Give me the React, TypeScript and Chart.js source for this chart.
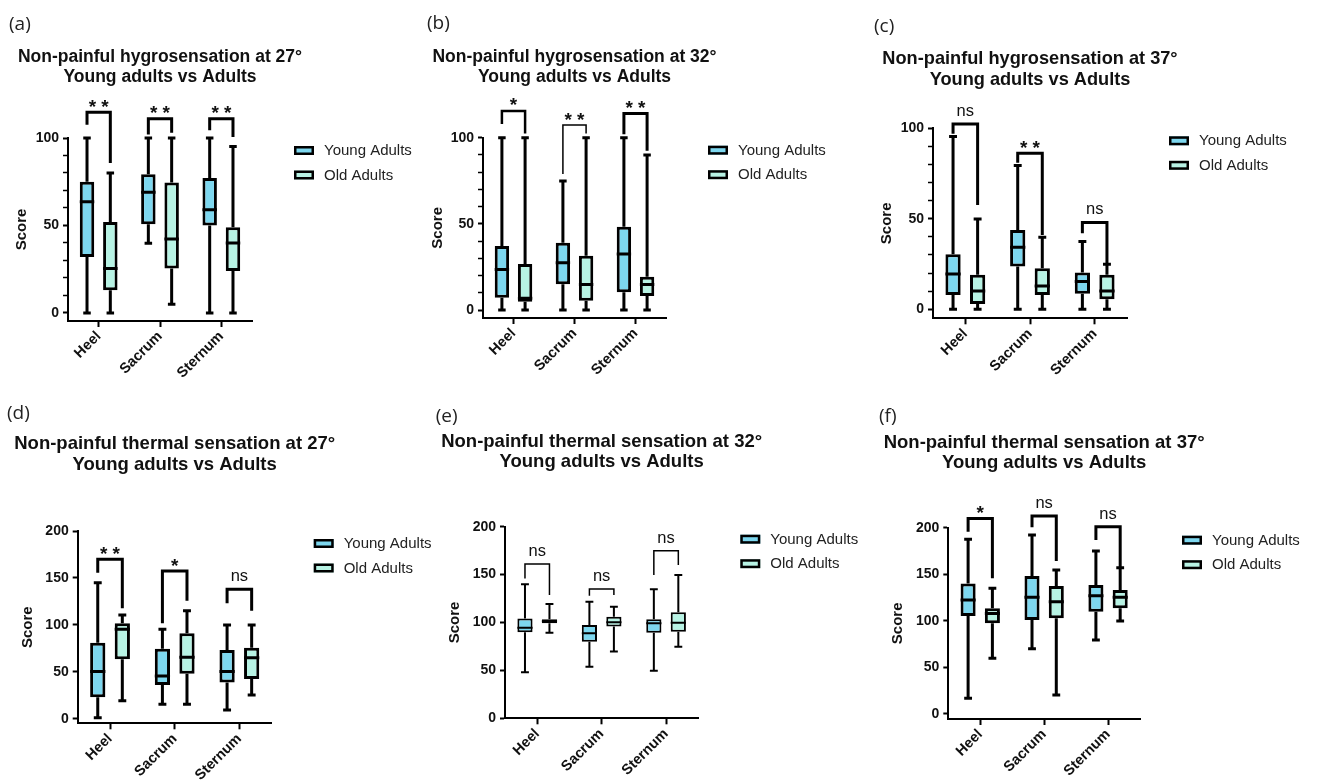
import React, { useEffect, useRef } from 'react';
import { Chart, registerables } from 'chart.js';

Chart.register(...registerables);
Chart.defaults.font.family = '"Liberation Sans", Arial, sans-serif';

// ---------- data ----------
const categories = ['Heel', 'Sacrum', 'Sternum'];
const groupNames = ['Young Adults', 'Old Adults'];

// box statistics per category: [min, q1, median, q3, max]
const hygro27Young = [[0, 32, 63.5, 75, 100], [39.8, 50.7, 69, 79.3, 100], [0, 50, 59, 77.2, 100]];
const hygro27Old = [[0, 13, 25.4, 52, 80], [5, 25.4, 42.3, 74.6, 100], [0, 24, 40, 49, 95.2]];
const hygro32Young = [[0, 7.2, 23.5, 37.1, 100], [0, 15, 27.5, 39, 74.9], [0, 10.3, 32.5, 48.4, 100]];
const hygro32Old = [[0, 4.8, 6.8, 26.7, 100], [0, 5.4, 14.9, 31.5, 100], [0, 8.1, 14.9, 19.3, 90]];
const hygro37Young = [[0, 7.9, 19.5, 30.4, 95.4], [0, 23.6, 34.3, 43.8, 79.4], [0, 8.5, 15.3, 20.3, 37.4]];
const hygro37Old = [[0, 2.9, 10.1, 19, 49.9], [0, 7.9, 12.9, 22.7, 39.8], [0, 5.5, 10.1, 19, 24.9]];
const thermal27Young = [[1.4, 23, 50.4, 81.2, 145], [15.6, 36.2, 45.7, 74.8, 95.4], [9.6, 38.7, 50.4, 73.4, 100]];
const thermal27Old = [[19.5, 63.5, 95.4, 101.8, 110.6], [15.6, 48.2, 65.6, 91.1, 115.2], [25.5, 42.6, 65.2, 75.9, 100]];
const thermal32Young = [[48, 89.7, 94.6, 104.3, 139.8], [53.9, 80, 88.7, 97.4, 121.7], [49.7, 89.4, 99.1, 103.3, 134.6]];
const thermal32Old = [[89.4, 99.1, 101.2, 103.3, 119.3], [69.6, 95.7, 100.2, 106.1, 116.5], [74.8, 90.4, 99.8, 110.6, 149.6]];
const thermal37Young = [[16.8, 105.2, 122.4, 140.2, 187.5], [70, 100.9, 125.2, 148.1, 192.1], [79.4, 109.8, 127, 138.5, 175]];
const thermal37Old = [[59.7, 97.3, 108, 113.4, 134.9], [20.4, 102.7, 120.6, 137.4, 154.6], [99.8, 113.4, 125.2, 133, 157]];

// significance brackets per category: [top, left leg end, right leg end] (score units)
const hygro27Brackets = [[114.7, 107.6, 85.7], [111, 102, 103], [111, 104.4, 100.6]];
const hygro27Sig = ['**', '**', '**'];
const hygro32Brackets = [[115.5, 108, 102.5], [107.3, 79, 102.5], [114, 102, 92.5]];
const hygro32Sig = ['*', '**', '**'];
const hygro37Brackets = [[102.4, 97, 57.6], [86.2, 81, 41], [48, 42, 25.4]];
const hygro37Sig = ['ns', '**', 'ns'];
const thermal27Brackets = [[169.9, 155.7, 117.7], [157.4, 101.8, 125.9], [137.9, 123, 115.2]];
const thermal27Sig = ['**', '*', 'ns'];
const thermal32Brackets = [[161, 146, 128.7], [135, 128, 128.7], [175, 149.6, 160]];
const thermal32Sig = ['ns', 'ns', 'ns'];
const thermal37Brackets = [[210, 195.7, 145.6], [212.5, 200.4, 164.2], [201, 186.8, 157]];
const thermal37Sig = ['*', 'ns', 'ns'];

// axis ticks
const hygroTicks = [0, 10, 20, 30, 40, 50, 60, 70, 80, 90, 100];
const hygroTickLabels = [0, 50, 100];
const thermalTicks = [0, 50, 100, 150, 200];
const thermalTickLabels = [0, 50, 100, 150, 200];

const titleLine2 = 'Young adults vs Adults';

// ---------- styles / layout ----------
const YOUNG_COLOR = '#7dd7ef';
const OLD_COLOR = '#b7f3e4';
const FONT = '"Liberation Sans", Arial, sans-serif';
const EXTRA_LEFT = 15;

const panels: any[] = [
  {
    id: 'a', letter: '(a)', title: 'Non-painful hygrosensation at 27°',
    young: hygro27Young, old: hygro27Old, brackets: hygro27Brackets, sig: hygro27Sig,
    ticks: hygroTicks, tickLabels: hygroTickLabels, yMin: -4.6, yMax: 100,
    canvasLeft: 13, canvasTop: 0, canvasW: 417, canvasH: 392, yAxisW: 55,
    plotTop: 138, plotRight: 252, plotBottom: 321,
    titleY: 56.7, titleSize: 17.5, letterX: 10, letterY: 25, lineW: 3, bracketW: [3, 3, 3],
  },
  {
    id: 'b', letter: '(b)', title: 'Non-painful hygrosensation at 32°',
    young: hygro32Young, old: hygro32Old, brackets: hygro32Brackets, sig: hygro32Sig,
    ticks: hygroTicks, tickLabels: hygroTickLabels, yMin: -4.6, yMax: 100,
    canvasLeft: 429, canvasTop: 0, canvasW: 441, canvasH: 392, yAxisW: 54,
    plotTop: 137.7, plotRight: 666, plotBottom: 318,
    titleY: 56.7, titleSize: 17.5, letterX: 428, letterY: 24, lineW: 3, bracketW: [2.5, 1.5, 3],
  },
  {
    id: 'c', letter: '(c)', title: 'Non-painful hygrosensation at 37°',
    young: hygro37Young, old: hygro37Old, brackets: hygro37Brackets, sig: hygro37Sig,
    ticks: hygroTicks, tickLabels: hygroTickLabels, yMin: -5, yMax: 100,
    canvasLeft: 878, canvasTop: 0, canvasW: 442, canvasH: 392, yAxisW: 55,
    plotTop: 128.3, plotRight: 1127, plotBottom: 318.3,
    titleY: 59.3, titleSize: 18.2, letterX: 875, letterY: 27, lineW: 3, bracketW: [3, 3, 3],
  },
  {
    id: 'd', letter: '(d)', title: 'Non-painful thermal sensation at 27°',
    young: thermal27Young, old: thermal27Old, brackets: thermal27Brackets, sig: thermal27Sig,
    ticks: thermalTicks, tickLabels: thermalTickLabels, yMin: -4.6, yMax: 200,
    canvasLeft: 19, canvasTop: 392, canvasW: 421, canvasH: 392, yAxisW: 58.7,
    plotTop: 531, plotRight: 271.7, plotBottom: 723.3,
    titleY: 444.3, titleSize: 18.5, letterX: 8, letterY: 413.5, lineW: 3, bracketW: [3, 3, 3],
  },
  {
    id: 'e', letter: '(e)', title: 'Non-painful thermal sensation at 32°',
    young: thermal32Young, old: thermal32Old, brackets: thermal32Brackets, sig: thermal32Sig,
    ticks: thermalTicks, tickLabels: thermalTickLabels, yMin: 0, yMax: 200,
    canvasLeft: 446, canvasTop: 392, canvasW: 424, canvasH: 392, yAxisW: 59,
    plotTop: 526.7, plotRight: 698.3, plotBottom: 718.3,
    titleY: 441.7, titleSize: 18.5, letterX: 436.7, letterY: 417, lineW: 2, bracketW: [1.5, 1.5, 1.5],
  },
  {
    id: 'f', letter: '(f)', title: 'Non-painful thermal sensation at 37°',
    young: thermal37Young, old: thermal37Old, brackets: thermal37Brackets, sig: thermal37Sig,
    ticks: thermalTicks, tickLabels: thermalTickLabels, yMin: -5.4, yMax: 200,
    canvasLeft: 889, canvasTop: 392, canvasW: 431, canvasH: 392, yAxisW: 59.3,
    plotTop: 527.7, plotRight: 1140, plotBottom: 719,
    titleY: 442.7, titleSize: 18.5, letterX: 880, letterY: 417, lineW: 3, bracketW: [3, 3, 3],
  },
];

function Panel({ p }: { p: any }) {
  const ref = useRef<HTMLCanvasElement>(null);
  const left = p.canvasLeft - EXTRA_LEFT;
  const width = p.canvasW + EXTRA_LEFT;

  useEffect(() => {
    const canvas = ref.current;
    if (!canvas) return;
    const padT = p.plotTop - p.canvasTop;
    const padR = p.canvasLeft + p.canvasW - p.plotRight;
    const xAxisH = p.canvasTop + p.canvasH - p.plotBottom;
    const groups = [p.young, p.old];
    const colors = [YOUNG_COLOR, OLD_COLOR];

    const boxPlugin = {
      id: 'boxWhiskers' + p.id,
      afterDatasetsDraw(chart: any) {
        const ctx = chart.ctx;
        const ys = chart.scales.y;
        const lw = p.lineW;
        ctx.save();
        ctx.strokeStyle = '#000';
        ctx.lineCap = 'butt';
        ctx.lineJoin = 'miter';
        const centers: number[][] = [[], []];
        groups.forEach((stats: number[][], di: number) => {
          const meta = chart.getDatasetMeta(di);
          meta.data.forEach((bar: any, i: number) => {
            const s = stats[i];
            const { x, width: w } = bar.getProps(['x', 'width'], true);
            centers[di][i] = x;
            const yMin = ys.getPixelForValue(s[0]);
            const yQ1 = ys.getPixelForValue(s[1]);
            const yMed = ys.getPixelForValue(s[2]);
            const yQ3 = ys.getPixelForValue(s[3]);
            const yMax = ys.getPixelForValue(s[4]);
            const cap = w * 0.52;
            ctx.lineWidth = lw;
            ctx.beginPath();
            ctx.moveTo(x, yQ3); ctx.lineTo(x, yMax);
            ctx.moveTo(x, yQ1); ctx.lineTo(x, yMin);
            ctx.moveTo(x - cap / 2, yMax); ctx.lineTo(x + cap / 2, yMax);
            ctx.moveTo(x - cap / 2, yMin); ctx.lineTo(x + cap / 2, yMin);
            ctx.moveTo(x - w / 2, yMed); ctx.lineTo(x + w / 2, yMed);
            ctx.stroke();
          });
        });
        p.brackets.forEach((b: number[], i: number) => {
          const xl = centers[0][i];
          const xr = centers[1][i];
          const yT = ys.getPixelForValue(b[0]);
          const yL = ys.getPixelForValue(b[1]);
          const yR = ys.getPixelForValue(b[2]);
          ctx.lineWidth = p.bracketW[i];
          ctx.beginPath();
          ctx.moveTo(xl, yL); ctx.lineTo(xl, yT); ctx.lineTo(xr, yT); ctx.lineTo(xr, yR);
          ctx.stroke();
          const label = p.sig[i];
          const cx = (xl + xr) / 2;
          ctx.fillStyle = '#111';
          ctx.textAlign = 'center';
          ctx.textBaseline = 'alphabetic';
          if (label.startsWith('*')) {
            ctx.font = `bold 19px ${FONT}`;
            const n = label.length;
            for (let k = 0; k < n; k++) {
              ctx.fillText('*', cx + (k - (n - 1) / 2) * 12.5, yT + 0.5);
            }
          } else {
            ctx.font = `16.5px ${FONT}`;
            ctx.fillText(label, cx, yT - 8);
          }
        });
        ctx.restore();
      },
      afterDraw(chart: any) {
        const ctx = chart.ctx;
        const area = chart.chartArea;
        ctx.save();
        const cx = (area.left + area.right) / 2;
        ctx.fillStyle = '#111';
        ctx.textAlign = 'center';
        ctx.textBaseline = 'middle';
        ctx.font = `bold ${p.titleSize}px ${FONT}`;
        ctx.fillText(p.title, cx, p.titleY - p.canvasTop);
        ctx.fillText(titleLine2, cx, p.titleY - p.canvasTop + 20.5);
        const lx = area.right + 42;
        groupNames.forEach((name, i) => {
          const cy = area.top + 12.5 + i * 24.5;
          ctx.fillStyle = colors[i];
          ctx.fillRect(lx, cy - 4.5, 20, 9);
          ctx.strokeStyle = '#000';
          ctx.lineWidth = 2.5;
          ctx.strokeRect(lx + 1.25, cy - 3.25, 17.5, 6.5);
          ctx.fillStyle = '#222';
          ctx.font = `15px ${FONT}`;
          ctx.textAlign = 'left';
          ctx.textBaseline = 'middle';
          ctx.fillText(name, lx + 30, cy + 0.5);
        });
        ctx.restore();
      },
    };

    const chart = new Chart(canvas, {
      type: 'bar',
      data: {
        labels: categories,
        datasets: groups.map((stats: number[][], di: number) => ({
          label: groupNames[di],
          data: stats.map((s) => [s[1], s[3]]),
          backgroundColor: colors[di],
          borderColor: '#000',
          borderWidth: p.lineW,
          borderSkipped: false,
          categoryPercentage: 0.76,
          barPercentage: 0.62,
        })) as any,
      },
      options: {
        responsive: false,
        animation: false,
        devicePixelRatio: 1,
        events: [],
        layout: { padding: { top: padT, right: padR, bottom: 0, left: EXTRA_LEFT } },
        plugins: {
          legend: { display: false },
          title: { display: false },
          tooltip: { enabled: false },
        },
        scales: {
          x: {
            type: 'category',
            offset: true,
            grid: {
              display: true, drawOnChartArea: false, drawTicks: true, offset: false,
              tickLength: 6, tickWidth: 2, tickColor: '#000',
            },
            border: { display: true, color: '#000', width: 2 },
            ticks: {
              color: '#111', font: { weight: 'bold', size: 14.5 },
              minRotation: 45, maxRotation: 45, autoSkip: false, padding: 1,
            },
            afterFit: (s: any) => { s.height = xAxisH; },
          },
          y: {
            type: 'linear',
            min: p.yMin,
            max: p.yMax,
            afterBuildTicks: (s: any) => { s.ticks = p.ticks.map((v: number) => ({ value: v })); },
            grid: {
              display: true, drawOnChartArea: false, drawTicks: true, tickLength: 5,
              tickWidth: (c: any) => (c.tick && p.tickLabels.includes(c.tick.value) ? 2 : 1.5),
              tickColor: '#000',
            },
            border: { display: true, color: '#000', width: 2 },
            ticks: {
              color: '#111', font: { weight: 'bold', size: 14 }, padding: 4, autoSkip: false,
              callback: (v: any) => (p.tickLabels.includes(Number(v)) ? String(v) : ''),
            },
            title: {
              display: true, text: 'Score', color: '#111',
              font: { weight: 'bold', size: 15 }, padding: 0,
            },
            afterFit: (s: any) => { s.width = p.yAxisW; },
          },
        },
      } as any,
      plugins: [boxPlugin],
    });
    return () => chart.destroy();
  }, []);

  return (
    <canvas
      ref={ref}
      width={width}
      height={p.canvasH}
      style={{ position: 'absolute', left, top: p.canvasTop, width, height: p.canvasH }}
    />
  );
}

export default function App() {
  return (
    <div style={{ position: 'absolute', left: 0, top: 0, width: 1320, height: 784, background: '#fff', overflow: 'hidden' }}>
      {panels.map((p) => <Panel key={p.id} p={p} />)}
      {panels.map((p) => (
        <div
          key={'letter-' + p.id}
          style={{
            position: 'absolute', left: p.letterX - 1, top: p.letterY - 14,
            font: '19px "Open Sans", sans-serif', lineHeight: '24px', color: '#222', whiteSpace: 'nowrap',
          }}
        >
          {p.letter}
        </div>
      ))}
    </div>
  );
}
